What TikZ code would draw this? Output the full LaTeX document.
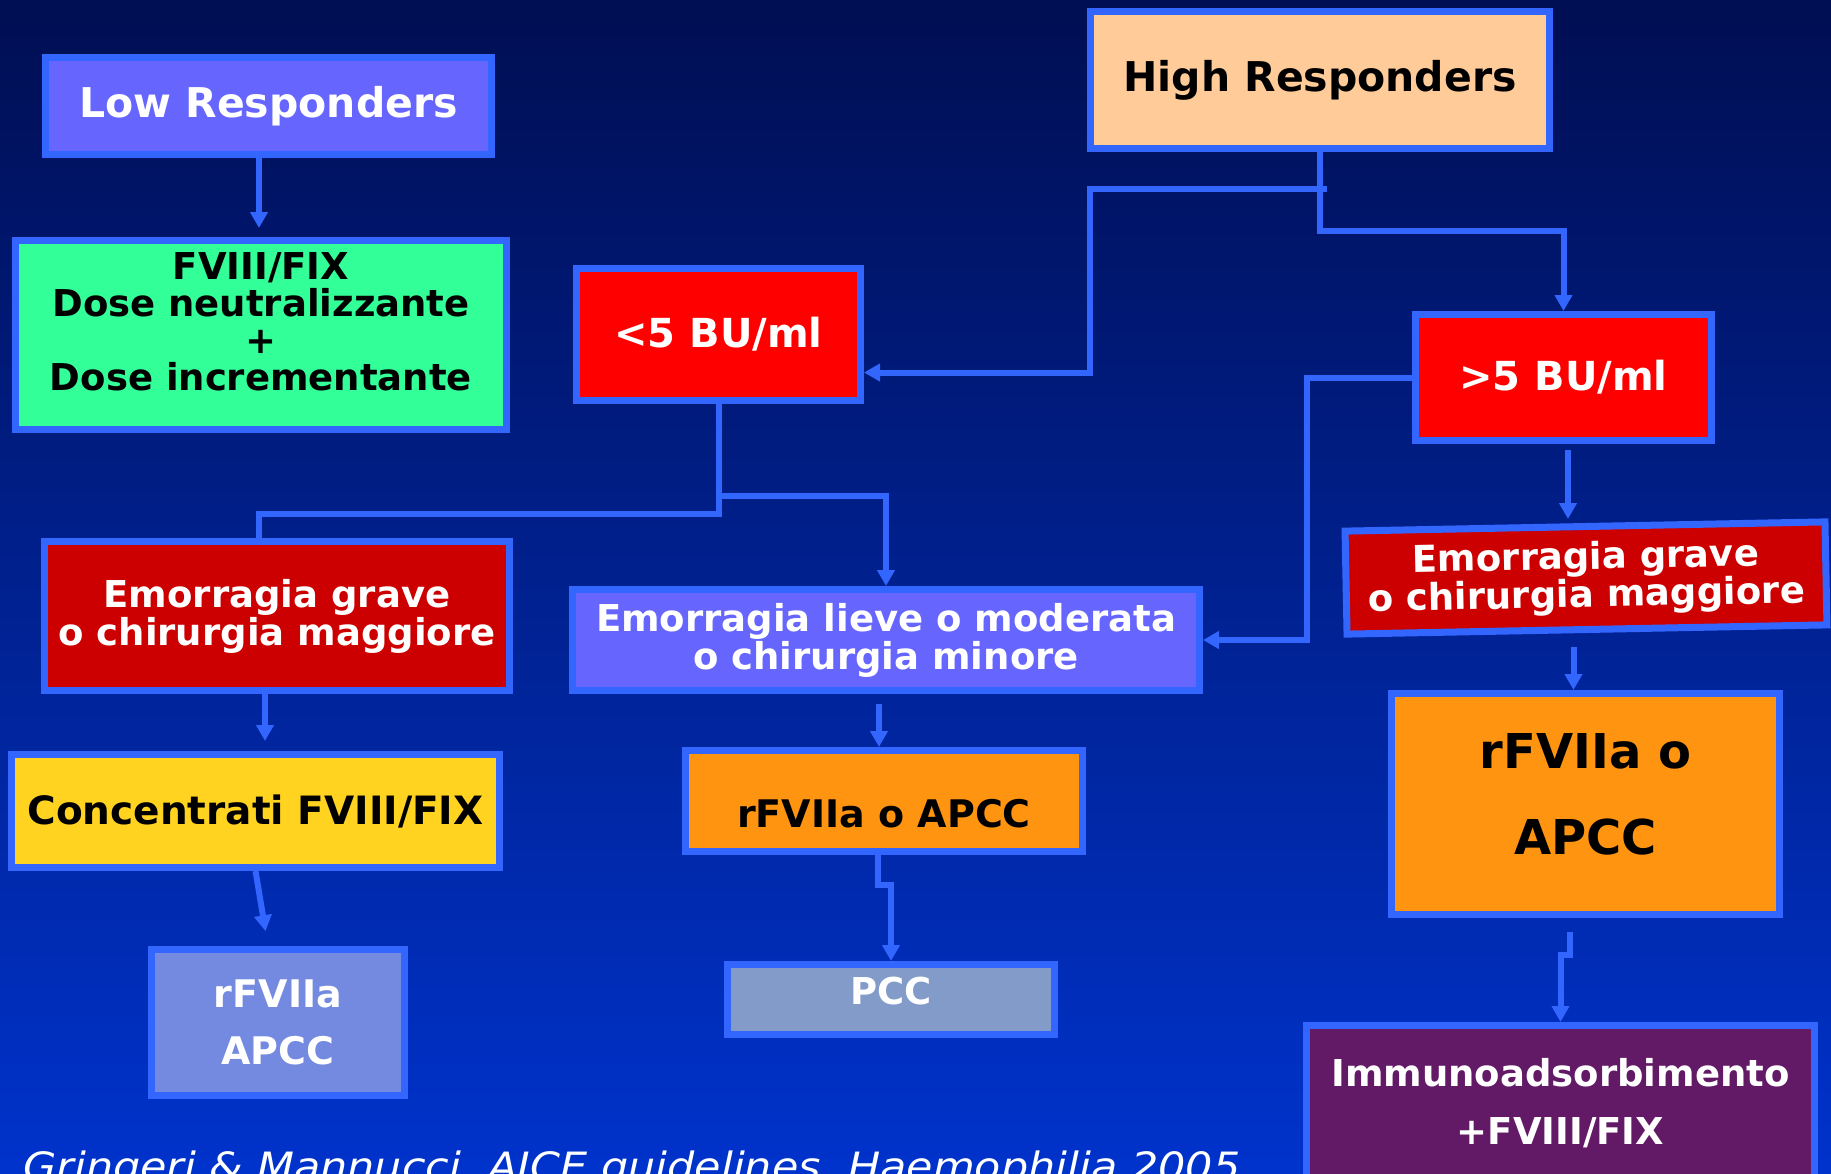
\documentclass[tikz,border=0pt]{standalone}
\usepackage{fontspec}
\setmainfont{DejaVu Sans}
\newfontfamily\citefont{DejaVu Sans}[FakeStretch=1.1]
\usetikzlibrary{arrows.meta}
\definecolor{bgtop}{RGB}{0,14,82}
\definecolor{bgbot}{RGB}{0,51,204}
\definecolor{edgeblue}{RGB}{51,102,255}
\definecolor{violetfill}{RGB}{102,102,255}
\definecolor{greenfill}{RGB}{51,255,153}
\definecolor{peachfill}{RGB}{255,204,153}
\definecolor{redfill}{RGB}{255,0,0}
\definecolor{darkredfill}{RGB}{204,0,0}
\definecolor{yellowfill}{RGB}{255,211,32}
\definecolor{orangefill}{RGB}{255,148,17}
\definecolor{paleblue}{RGB}{115,138,224}
\definecolor{greyblue}{RGB}{130,155,201}
\definecolor{purplefill}{RGB}{98,26,102}
\begin{document}
\begin{tikzpicture}
        [
            x = 1pt, y = -1pt,
            box/.style = {draw=edgeblue, line width=7pt, align=center, inner sep=0pt,
                font=\bfseries\fontsize{37}{37}\selectfont},
            conn/.style = {draw=edgeblue, line width=6pt, -{Triangle[length=16pt,width=17pt]}},
            wire/.style = {draw=edgeblue, line width=6pt},
        ]
        \useasboundingbox (0,0) rectangle (1831,1173);
        \shade[top color=bgtop, bottom color=bgbot] (0,0) rectangle (1831,1173);

        \node[box, fill=violetfill, text=white, minimum width=446, minimum height=97,
            font=\bfseries\fontsize{41}{41}\selectfont] (lowresp) at (268.5,106) {Low Responders};
        \node[box, fill=peachfill, minimum width=459, minimum height=137,
            font=\bfseries\fontsize{41}{41}\selectfont] (highresp) at (1320,80) {High Responders};
        \node[box, fill=greenfill, minimum width=491, minimum height=189, text depth=26pt] (fix) at (261,335)
            {FVIII/FIX\\Dose neutralizzante\\+\\Dose incrementante};
        \node[box, fill=redfill, text=white, minimum width=284, minimum height=132,
            font=\bfseries\fontsize{40}{40}\selectfont] (lowbu) at (718.5,334.5) {<5 BU/ml};
        \node[box, fill=redfill, text=white, minimum width=296, minimum height=126,
            font=\bfseries\fontsize{40}{40}\selectfont] (highbu) at (1563.5,377.5) {>5 BU/ml};
        \node[box, fill=darkredfill, text=white, minimum width=465, minimum height=149,
            font=\bfseries\fontsize{37}{38}\selectfont] (gravel) at (277,616)
            {Emorragia grave\\o chirurgia maggiore};
        \node[box, fill=violetfill, text=white, minimum width=627, minimum height=101,
            font=\bfseries\fontsize{37}{38}\selectfont] (lieve) at (886,640)
            {Emorragia lieve o moderata\\o chirurgia minore};
        \node[box, fill=darkredfill, text=white, minimum width=480, minimum height=103, rotate=1.1,
            font=\bfseries\fontsize{37}{38}\selectfont] (graver) at (1586,578)
            {Emorragia grave\\o chirurgia maggiore};
        \node[box, fill=yellowfill, minimum width=488, minimum height=113,
            font=\bfseries\fontsize{39}{39}\selectfont] (conc) at (255.5,811)
            {Concentrati FVIII/FIX};
        \node[box, fill=orangefill, minimum width=397, minimum height=101, text height=54pt,
            font=\bfseries\fontsize{38}{38}\selectfont] (apccm) at (884,801)
            {rFVIIa o APCC};
        \node[box, fill=orangefill, minimum width=388, minimum height=221, text depth=20pt,
            font=\bfseries\fontsize{48}{86}\selectfont] (apccr) at (1585.5,804) {rFVIIa o\\APCC};
        \node[box, fill=paleblue, text=white, minimum width=253, minimum height=146,
            font=\bfseries\fontsize{38}{57}\selectfont] (apccl) at (278,1022.5) {rFVIIa\\APCC};
        \node[box, fill=greyblue, text=white, minimum width=327, minimum height=70, text depth=18pt] (pcc) at (891,999.5) {PCC};
        \node[box, fill=purplefill, text=white, minimum width=508, minimum height=156,
            font=\bfseries\fontsize{37}{58}\selectfont] (immuno) at (1560.5,1103.5)
            {Immunoadsorbimento\\+FVIII/FIX};
        \node[anchor=base west, text=white, inner sep=0pt,
            font=\citefont\itshape\fontsize{39}{39}\selectfont] (cite) at (23,1180)
            {Gringeri \& Mannucci, AICE guidelines, Haemophilia 2005};

        \coordinate (hrsplit) at (1327,189);

        \draw[conn, shorten >=9pt] ([xshift=-9.5pt]lowresp.south) -- ([xshift=-9.5pt]lowresp.south |- fix.north);
        \draw[conn] (highresp.south) -- ++(0,79) -| (highbu.north);
        \draw[conn] (hrsplit) -- ++(-237,0) |- ([yshift=-38pt]lowbu.east);
        \draw[wire] (lowbu.south) -- ++(0,110) -| ([xshift=-18pt]gravel.north);
        \draw[conn] ([yshift=-92pt]lowbu.south) -| (lieve.north);
        \draw[conn] (highbu.west) -- ++(-105,0) |- (lieve.east);
        \draw[conn, shorten <=6pt, shorten >=4pt] ([xshift=4.5pt]highbu.south) -- ([xshift=4.5pt]highbu.south |- graver.north);
        \draw[conn, shorten >=10pt] ([xshift=-12pt]gravel.south) -- ([xshift=-12pt]gravel.south |- conc.north);
        \draw[conn, shorten >=15pt] (conc.south) -- ([xshift=-10pt]apccl.north);
        \draw[conn, shorten <=10pt] ([xshift=-7pt]lieve.south) -- ([xshift=-7pt]lieve.south |- apccm.north);
        \draw[conn] ([xshift=-6pt]apccm.south) -- ++(0,30) -| (pcc.north);
        \draw[conn, shorten <=14pt] ([xshift=-12pt]apccr.north |- graver.south) -- ([xshift=-12pt]apccr.north);
        \draw[conn, shorten <=14pt] ([xshift=-16pt]apccr.south) -- ++(0,37) -| (immuno.north);
    \end{tikzpicture}
\end{document}
